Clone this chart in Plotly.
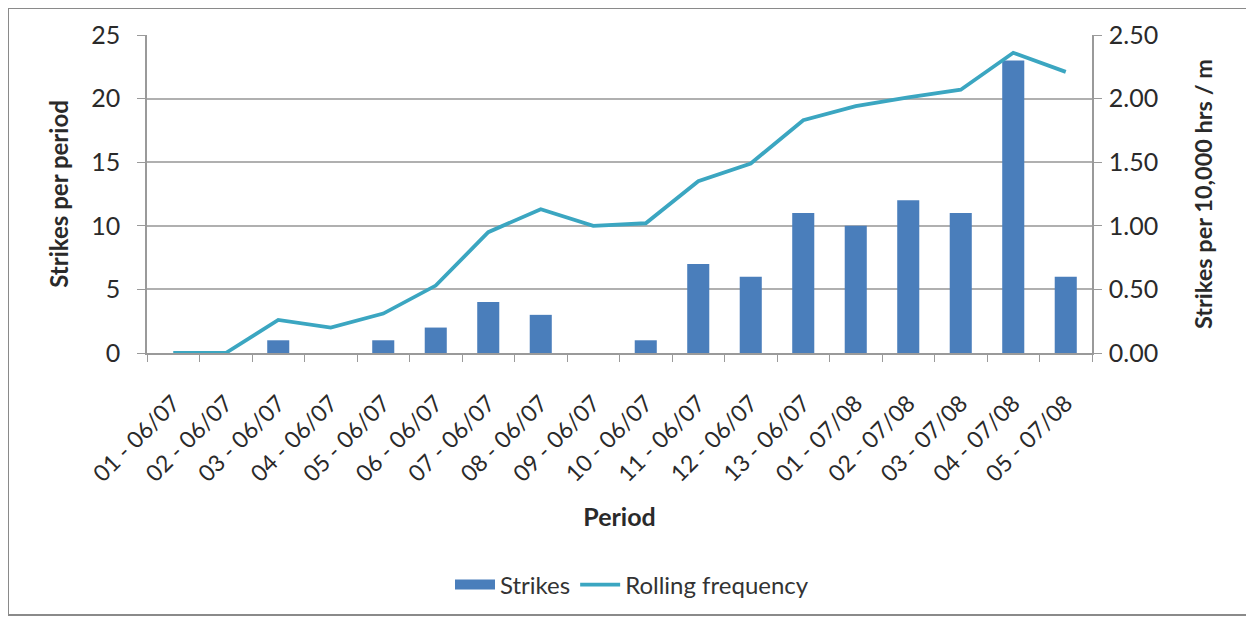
import plotly.graph_objects as go

periods = ["01 - 06/07", "02 - 06/07", "03 - 06/07", "04 - 06/07", "05 - 06/07", "06 - 06/07",
           "07 - 06/07", "08 - 06/07", "09 - 06/07", "10 - 06/07", "11 - 06/07", "12 - 06/07",
           "13 - 06/07", "01 - 07/08", "02 - 07/08", "03 - 07/08", "04 - 07/08", "05 - 07/08"]
strikes = [0, 0, 1, 0, 1, 2, 4, 3, 0, 1, 7, 6, 11, 10, 12, 11, 23, 6]
rolling = [0.0, 0.0, 0.26, 0.20, 0.31, 0.53, 0.95, 1.13, 1.00, 1.02, 1.35, 1.49,
           1.83, 1.94, 2.01, 2.07, 2.36, 2.21]

# the page body has an 8px margin, so work in coordinates offset by 8px
OFF = 8
W, H = 1254 - OFF, 621 - OFF
L, R, T, B = 147 - OFF, 1092 - OFF, 35 - OFF, 353 - OFF
FONT = "Lato"
BAR_COLOR = "#4a7ebb"
LINE_COLOR = "#3ba6c1"
AX = "#9a9a9a"

fig = go.Figure()
fig.add_trace(go.Bar(x=periods, y=strikes, name="Strikes", showlegend=False,
                     marker=dict(color=BAR_COLOR, line=dict(width=0)), yaxis="y"))
# legend entry with a wide rectangular swatch for the bars
fig.add_trace(go.Scatter(x=[None], y=[None], name="Strikes", mode="lines",
                         line=dict(color=BAR_COLOR, width=15), yaxis="y"))
fig.add_trace(go.Scatter(x=periods, y=rolling, name="Rolling frequency", mode="lines",
                         line=dict(color=LINE_COLOR, width=3.8), yaxis="y2"))

pw, ph = R - L, B - T
def px(x): return (x - OFF - L) / pw
def py(y): return (B - (y - OFF)) / ph

fig.update_layout(
    width=W, height=H,
    margin=dict(l=L, r=W - R, t=T, b=H - B, autoexpand=False),
    paper_bgcolor="white", plot_bgcolor="white",
    font=dict(family=FONT, color="#2a2a2a", size=20),
    bargap=0.58,
    showlegend=True,
    legend=dict(orientation="h", x=px(632), xanchor="center", y=py(585), yanchor="middle",
                font=dict(size=24, family=FONT, color="#333333"), traceorder="normal",
                itemwidth=40, tracegroupgap=0),
    xaxis=dict(type="category", tickangle=-45, showgrid=False, showline=True, automargin=False,
               linecolor=AX, linewidth=1.5, ticks="outside", tickson="boundaries",
               ticklen=7, tickcolor=AX, tickfont=dict(size=23, family=FONT),
               ticklabelstandoff=26,
               title=dict(text="<b>Period</b>", font=dict(size=25, family=FONT), standoff=23)),
    yaxis=dict(range=[0, 25], dtick=5, showgrid=True, gridcolor="#b0b0b0", gridwidth=1.5,
               showline=True, linecolor=AX, linewidth=1.5, ticks="outside", ticklen=8,
               tickcolor=AX, tickfont=dict(size=25, family=FONT), zeroline=False,
               automargin=False, ticklabelstandoff=12,
               title=dict(text="<b>Strikes per period</b>", font=dict(size=24, family=FONT), standoff=16)),
    yaxis2=dict(range=[0, 2.5], dtick=0.5, tickformat=".2f", overlaying="y", side="right",
                showgrid=False, showline=True, linecolor=AX, linewidth=1.5,
                ticks="outside", ticklen=8, tickcolor=AX, zeroline=False,
                tickfont=dict(size=25, family=FONT), automargin=False, ticklabelstandoff=2,
                title=dict(text="<b>Strikes per 10,000 hrs / m</b>", font=dict(size=23.5, family=FONT), standoff=38)),
    shapes=[dict(type="rect", xref="paper", yref="paper",
                 x0=px(8), x1=px(1249), y0=py(8), y1=py(615),
                 line=dict(color="#8a8a8a", width=2), fillcolor="rgba(0,0,0,0)", layer="below")],
)

fig.write_html("out.html")
